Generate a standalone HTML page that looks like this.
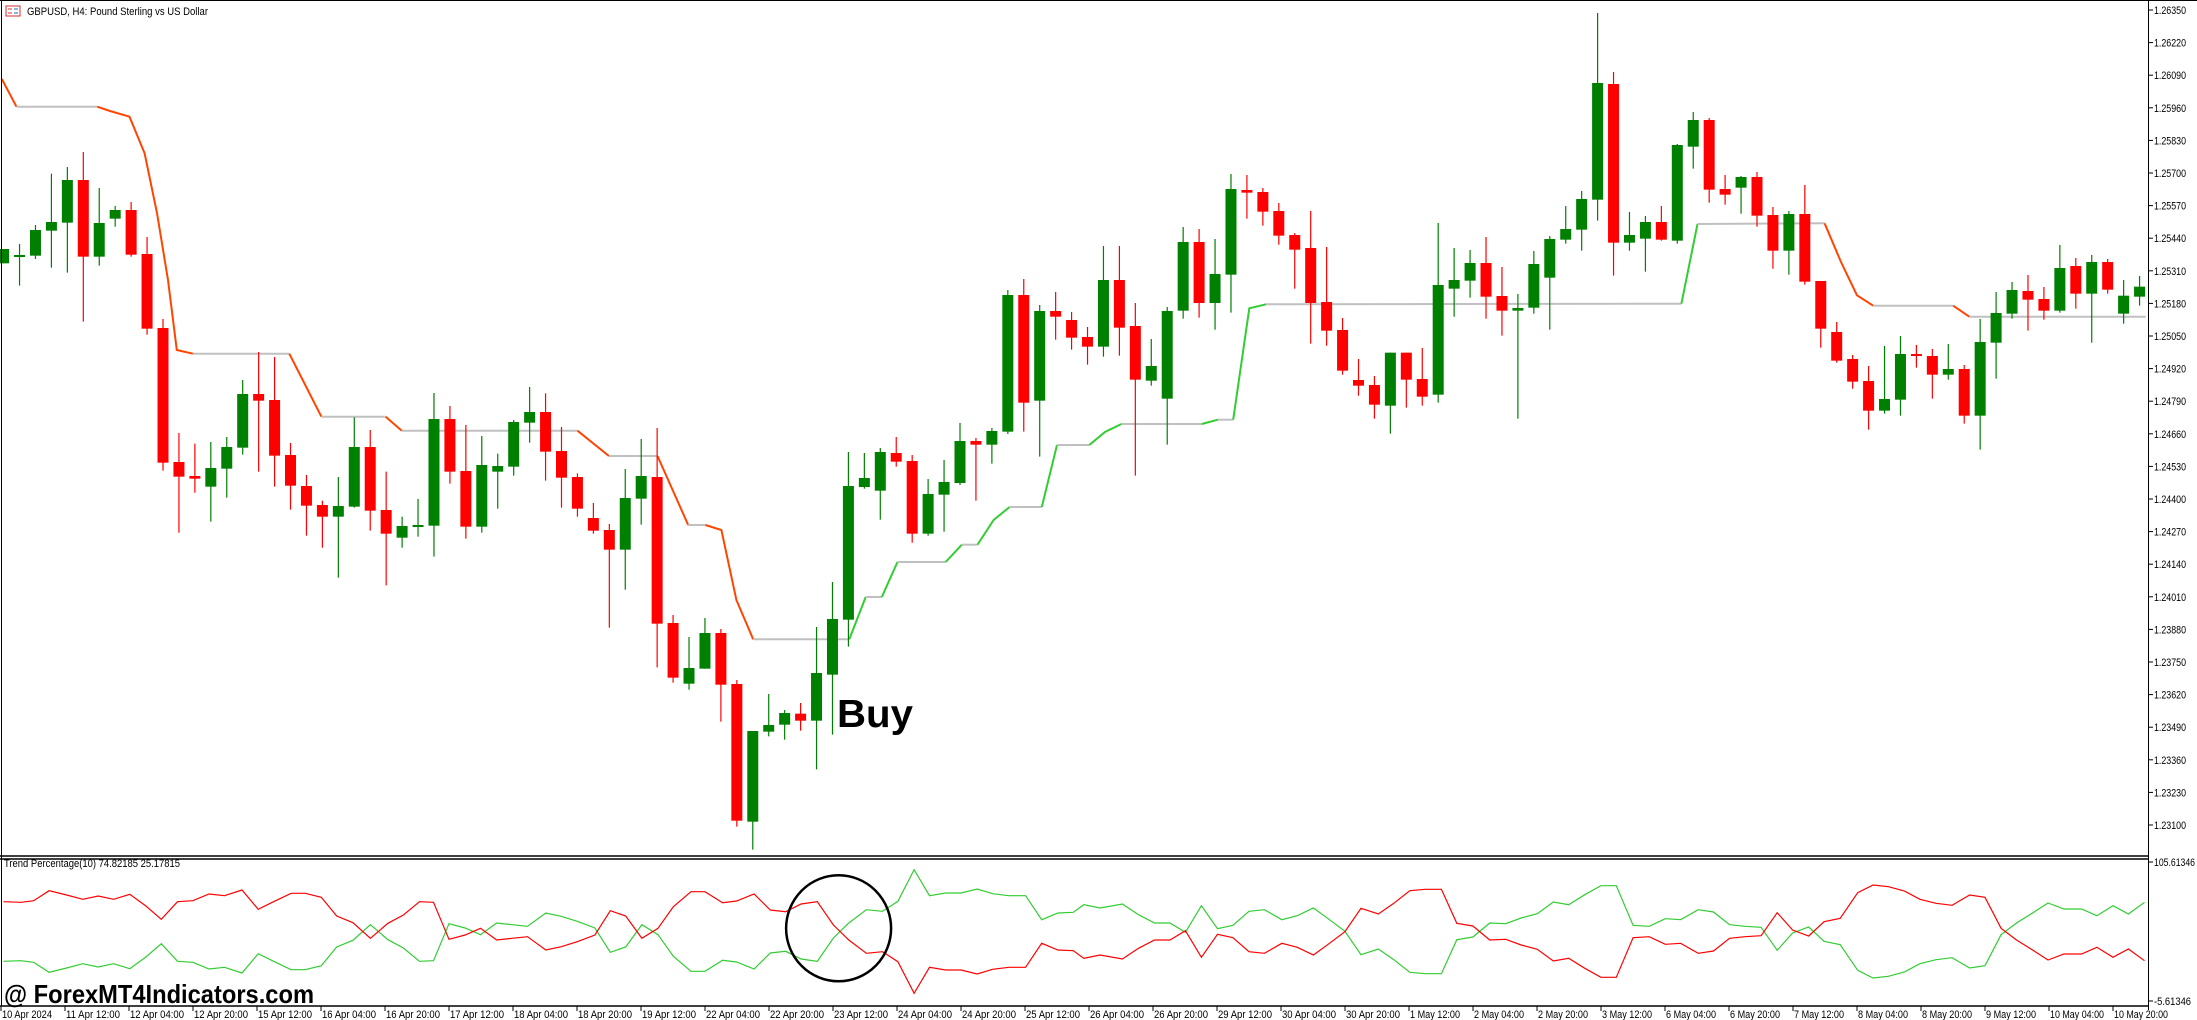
<!DOCTYPE html>
<html><head><meta charset="utf-8">
<style>
html,body{margin:0;padding:0;background:#fff;}
svg{display:block;}
text{font-family:"Liberation Sans",sans-serif;}
</style></head>
<body>
<svg id="s" width="2197" height="1020" viewBox="0 0 2197 1020" xmlns="http://www.w3.org/2000/svg">
<rect x="0" y="0" width="2197" height="1020" fill="#fff"/>
<g id="g"></g>
</svg>
<script>
(function(){
var NS="http://www.w3.org/2000/svg",G=document.getElementById('g');
function el(t,a,txt){var e=document.createElementNS(NS,t);for(var k in a)e.setAttribute(k,a[k]);if(txt!=null)e.textContent=txt;G.appendChild(e);return e;}
var blocks=[
 {y0:130,s:0,d:[
 [357,400,357,400,'G'],[375,380,342,467,'G'],[300,377,285,387,'G'],[276,302,131,413,'G'],[150,278,111,428,'G'],
 [150,380,66,575,'R'],[279,380,174,407,'G'],[240,266,228,290,'G'],[240,374,216,380,'R'],[372,596,321,614,'R'],
 [594,998,567,1022,'R'],[996,1040,909,1208,'R'],[1038,1046,941,1088,'R'],[1014,1070,936,1175,'G'],[951,1016,921,1103,'G'],
 [792,953,750,974,'G'],[792,812,666,1025,'R'],[810,977,681,1070,'R'],[975,1067,939,1139,'R'],[1068,1127,1035,1217,'R'],
 [1125,1160,1112,1253,'R'],[1128,1160,1041,1343,'G'],[951,1130,862,1133,'G'],[951,1142,900,1202,'R'],[1140,1211,1025,1366,'R'],
 [1188,1223,1160,1253,'G'],[1185,1190,1107,1220,'G'],[867,1187,789,1280,'G'],[867,1025,828,1061,'R'],[1023,1190,885,1226,'R'],
 [1005,1190,918,1208,'G'],[1008,1025,971,1136,'G'],[876,1010,870,1037,'G'],[846,878,771,938,'G']]},
 {y0:380,s:34,d:[
 [96,215,40,302,'R'],[213,293,141,383,'R'],[291,386,280,410,'R'],[414,452,369,461,'R'],[450,509,432,743,'R'],
 [354,509,267,629,'G'],[288,356,177,434,'G'],[291,731,144,862,'R'],[729,893,705,908,'R'],[864,911,771,929,'G'],
 [759,866,714,866,'G'],[759,914,747,1025,'R'],[912,1322,900,1340,'R'],[1053,1325,1053,1409,'G'],[1035,1055,942,1069,'G'],
 [999,1034,990,1079,'G'],[1001,1022,969,1052,'R'],[879,1022,741,1168,'G'],[717,884,606,1064,'G'],[318,719,216,800,'G'],
 [294,321,219,326,'G'],[216,332,204,419,'G'],[219,245,171,260,'R'],[243,461,225,488,'R'],[342,461,297,467,'G'],
 [306,344,240,455,'G'],[183,309,129,315,'G'],[183,194,174,362,'R'],[153,194,144,251,'G']]},
 {y0:150,s:63,d:[
 [435,845,420,852,'G'],[435,758,387,845,'R'],[483,752,465,920,'G'],[483,500,426,569,'R'],[510,563,486,599,'R'],
 [561,590,531,644,'R'],[390,590,288,620,'G'],[390,533,288,617,'R'],[528,689,459,977,'R'],[648,692,567,707,'G'],
 [483,746,471,884,'G'],[276,482,231,506,'G'],[276,459,237,503,'R'],[372,459,267,539,'G'],[117,374,72,488,'G'],
 [120,128,75,206,'R'],[126,185,114,227,'R'],[183,257,159,284,'R'],[255,299,249,416,'R'],[294,459,183,581,'R'],
 [456,542,291,587,'R'],[540,662,504,674,'R'],[690,707,627,737,'R'],[705,764,678,806,'R'],[608,767,608,851,'G'],
 [608,689,608,773,'R'],[687,740,594,767,'R'],[405,734,219,758,'G'],[390,416,294,500,'G'],[339,392,300,443,'G'],
 [339,440,261,506,'R'],[438,482,351,557,'R'],[474,482,432,806,'G'],[342,473,303,491,'G'],[267,383,258,539,'G']]},
 {y0:0,s:98,d:[
 [687,719,618,731,'G'],[597,689,573,752,'G'],[249,599,39,662,'G'],[252,728,216,827,'R'],[705,728,636,752,'G'],
 [666,716,648,815,'G'],[666,719,618,722,'R'],[435,722,432,731,'G'],[360,440,336,506,'G'],[360,569,354,608,'R'],
 [567,584,525,614,'R'],[531,563,528,641,'G'],[531,647,516,680,'R'],[645,752,621,806,'R'],[642,752,633,824,'G'],
 [642,845,555,854,'R'],[843,986,843,1043,'R'],[996,1082,966,1088,'R'],[1077,1145,1065,1166,'R'],[1143,1232,1098,1289,'R'],
 [1197,1232,1038,1241,'G'],[1062,1199,1008,1247,'G'],[1062,1068,1035,1103,'R'],[1068,1124,1047,1196,'R'],[1107,1124,1032,1139,'G'],
 [1107,1247,1095,1271,'R'],[1026,1247,957,1349,'G'],[939,1028,876,1136,'G'],[870,941,846,956,'G'],[873,899,825,992,'R'],
 [897,932,861,959,'R'],[804,932,735,938,'G'],[798,881,774,926,'R'],[786,881,765,1028,'G'],
 [786,869,777,881,'R'],[887,941,840,971,'G'],[860,890,828,917,'G']]}
];
function cx(i){return 3.6+15.94*i;}
var lines=[
 ['#ff4500',[[1.8,79],[16.5,106.7]]],['#c0c0c0',[[16.5,106.7],[97.3,106.7]]],
 ['#ff4500',[[97.3,106.7],[110,111],[129.5,116.7],[135,130],[144.6,153.3],[157,213],[168,280],[176.8,350],[192.9,353.7]]],
 ['#c0c0c0',[[192.9,353.7],[289.3,353.7]]],['#ff4500',[[289.3,353.7],[321.4,416.7]]],
 ['#c0c0c0',[[321.4,416.7],[385.7,416.7]]],['#ff4500',[[385.7,416.7],[401.8,430.7]]],
 ['#c0c0c0',[[401.8,430.7],[577.5,430.7]]],['#ff4500',[[577.5,430.7],[608.9,456]]],
 ['#c0c0c0',[[608.9,456],[657.5,456]]],['#ff4500',[[657.5,456],[688.2,525]]],
 ['#c0c0c0',[[688.2,525],[705.4,525]]],['#ff4500',[[705.4,525],[721.4,530],[736.4,600],[753.2,639.3]]],
 ['#c0c0c0',[[753.2,639.3],[849.3,639.3]]],['#32cd32',[[849.3,639.3],[865.7,597]]],
 ['#c0c0c0',[[865.7,597],[881.8,597]]],['#32cd32',[[881.8,597],[897.5,562]]],
 ['#c0c0c0',[[897.5,562],[945.7,562]]],['#32cd32',[[945.7,562],[961.8,544.7]]],
 ['#c0c0c0',[[961.8,544.7],[977.5,544.7]]],['#32cd32',[[977.5,544.7],[993.6,520],[1009.6,507]]],
 ['#c0c0c0',[[1009.6,507],[1041.8,507]]],['#32cd32',[[1041.8,507],[1057,445]]],
 ['#c0c0c0',[[1057,445],[1089.3,445]]],['#32cd32',[[1089.3,445],[1105,432],[1121.4,424]]],
 ['#c0c0c0',[[1121.4,424],[1201.8,424]]],['#32cd32',[[1201.8,424],[1217.9,419.7]]],
 ['#c0c0c0',[[1217.9,419.7],[1233.2,419.7]]],['#32cd32',[[1233.2,419.7],[1249.3,308.3],[1266,304.3]]],
 ['#c0c0c0',[[1266,304.3],[1681.4,303.7]]],['#32cd32',[[1681.4,303.7],[1697.5,224]]],
 ['#c0c0c0',[[1697.5,224],[1824.6,223.3]]],['#ff4500',[[1824.6,223.3],[1841,262],[1857,295.3],[1873.2,305.7]]],
 ['#c0c0c0',[[1873.2,305.7],[1953.2,305.7]]],['#ff4500',[[1953.2,305.7],[1969.3,316.7]]],
 ['#c0c0c0',[[1969.3,316.7],[2145.7,316.7]]]
];
lines.forEach(function(l){el('polyline',{points:l[1].map(function(p){return p.join(',')}).join(' '),fill:'none',stroke:l[0],'stroke-width':2});});
blocks.forEach(function(b){
 b.d.forEach(function(c,j){
  var i=b.s+j,x=cx(i),col=c[4]=='G'?'#008000':'#ff0000';
  var t=b.y0+c[0]/3,bt=b.y0+c[1]/3,h=b.y0+c[2]/3,lo=b.y0+c[3]/3;
  if(x>2143)return;
  el('line',{x1:x,x2:x,y1:h,y2:lo,stroke:col,'stroke-width':1.2});
  var hh=Math.max(bt-t,2);
  el('rect',{x:x-5.5,y:t,width:11,height:hh,fill:col});
 });
});
el('line',{x1:0,x2:2197,y1:0.5,y2:0.5,stroke:'#000','stroke-width':1});
el('line',{x1:1.5,x2:1.5,y1:0,y2:1006,stroke:'#000','stroke-width':1});
el('line',{x1:2148.5,x2:2148.5,y1:0,y2:1010,stroke:'#000','stroke-width':1});
el('line',{x1:0,x2:2149,y1:856,y2:856,stroke:'#000','stroke-width':1.4});
el('line',{x1:0,x2:2149,y1:859,y2:859,stroke:'#000','stroke-width':1.4});
el('line',{x1:0,x2:2149,y1:1006,y2:1006,stroke:'#000','stroke-width':1.4});
var pr=['1.26350','1.26220','1.26090','1.25960','1.25830','1.25700','1.25570','1.25440','1.25310','1.25180','1.25050','1.24920','1.24790','1.24660','1.24530','1.24400','1.24270','1.24140','1.24010','1.23880','1.23750','1.23620','1.23490','1.23360','1.23230','1.23100'];
pr.forEach(function(p,k){var y=10+k*32.6;el('line',{x1:2148,x2:2153,y1:y,y2:y,stroke:'#000'});el('text',{x:2154,y:y+4,'font-size':11,fill:'#000',textLength:32,lengthAdjust:'spacingAndGlyphs'},p);});
el('line',{x1:2148,x2:2153,y1:862,y2:862,stroke:'#000'});el('text',{x:2154,y:866,'font-size':11,textLength:41,lengthAdjust:'spacingAndGlyphs'},'105.61346');
el('line',{x1:2148,x2:2153,y1:1001,y2:1001,stroke:'#000'});el('text',{x:2154,y:1005,'font-size':11,textLength:37,lengthAdjust:'spacingAndGlyphs'},'-5.61346');
var tl=['10 Apr 2024','11 Apr 12:00','12 Apr 04:00','12 Apr 20:00','15 Apr 12:00','16 Apr 04:00','16 Apr 20:00','17 Apr 12:00','18 Apr 04:00','18 Apr 20:00','19 Apr 12:00','22 Apr 04:00','22 Apr 20:00','23 Apr 12:00','24 Apr 04:00','24 Apr 20:00','25 Apr 12:00','26 Apr 04:00','26 Apr 20:00','29 Apr 12:00','30 Apr 04:00','30 Apr 20:00','1 May 12:00','2 May 04:00','2 May 20:00','3 May 12:00','6 May 04:00','6 May 20:00','7 May 12:00','8 May 04:00','8 May 20:00','9 May 12:00','10 May 04:00','10 May 20:00'];
tl.forEach(function(t,k){var x=1+64*k;el('line',{x1:x,x2:x,y1:1006,y2:1011,stroke:'#000'});el('text',{x:x+1,y:1018,'font-size':11,fill:'#000',textLength:Math.round(t.length*4.5),lengthAdjust:'spacingAndGlyphs'},t);});
el('rect',{x:6,y:6,width:14,height:10,fill:'#fff',stroke:'#d03030','stroke-width':1});
el('line',{x1:8,x2:12,y1:9,y2:9,stroke:'#d03030'});el('line',{x1:14,x2:18,y1:9,y2:9,stroke:'#2060c0'});
el('line',{x1:8,x2:12,y1:13,y2:13,stroke:'#d03030'});el('line',{x1:14,x2:18,y1:13,y2:13,stroke:'#2060c0'});
el('text',{x:27,y:15,'font-size':11,fill:'#000',textLength:181,lengthAdjust:'spacingAndGlyphs'},'GBPUSD, H4:  Pound Sterling vs US Dollar');
el('text',{x:4,y:867,'font-size':11,fill:'#000',textLength:176,lengthAdjust:'spacingAndGlyphs'},'Trend Percentage(10) 74.82185 25.17815');
var r3=[[5,185],[30,187],[48,182],[70,152],[95,165],[118,178],[140,168],[162,178],[185,163],[208,198],[230,238],[253,185],[275,182],[298,162],[320,167],[345,150],[368,208],[390,185],[415,160],[435,160],[458,172],[480,228],[503,248],[528,295],[553,250],[575,225],[598,185],[618,187],[640,298],[663,285],[685,265],[708,300],[730,295],[752,290],[778,330],[800,320],[823,305],[848,285],[870,212],[892,228],[915,295],[938,265],[960,200],[985,155],[1005,155],[1030,188],[1050,183],[1075,162],[1098,210],[1120,215],[1142,192],[1165,185],[1188,255],[1210,300],[1235,340],[1258,335],[1280,365],[1303,460],[1325,382],[1348,390],[1370,390],[1393,402],[1415,388],[1438,382],[1462,382],[1485,310],[1508,330],[1530,332],[1545,355]];
var r8=[[0,345],[32,357],[55,325],[78,300],[100,300],[122,272],[145,352],[168,283],[190,293],[213,335],[235,340],[260,310],[282,322],[305,345],[328,310],[350,275],[373,205],[398,222],[420,190],[443,152],[465,148],[488,148],[510,250],[533,258],[557,300],[580,298],[602,315],[625,328],[648,363],[670,355],[693,385],[716,412],[738,412],[762,293],[785,290],[808,313],[830,310],[855,340],[877,333],[900,295],[922,290],[945,287],[968,218],[990,270],[1013,288],[1035,245],[1058,235],[1083,158],[1105,135],[1127,140],[1150,153],[1172,178],[1195,190],[1218,196],[1243,165],[1265,172],[1288,265],[1310,300],[1333,330],[1355,360],[1378,342],[1403,342],[1425,322],[1448,352],[1470,327],[1493,362]];
var pts=[];
r3.forEach(function(p){pts.push([p[0]/1.4255,840+p[1]/3]);});
r8.forEach(function(p){pts.push([1100+p[0]*0.6996,840+p[1]/3]);});
var ps=pts.map(function(p){return p[0].toFixed(1)+','+p[1].toFixed(1)}).join(' ');
el('polyline',{points:ps,fill:'none',stroke:'#32cd32','stroke-width':1.2,transform:'translate(0,1863) scale(1,-1)'});
el('polyline',{points:ps,fill:'none',stroke:'#ff0000','stroke-width':1.2});
el('ellipse',{cx:838.6,cy:928.3,rx:52.5,ry:53,fill:'none',stroke:'#000','stroke-width':2.5});
el('text',{x:837,y:727,'font-size':39,'font-weight':'bold',fill:'#000',textLength:76,lengthAdjust:'spacingAndGlyphs'},'Buy');
el('text',{x:4,y:1003,'font-size':26,'font-weight':'bold',fill:'#000',textLength:310,lengthAdjust:'spacingAndGlyphs'},'@ ForexMT4Indicators.com');
})();
</script>
</body></html>
